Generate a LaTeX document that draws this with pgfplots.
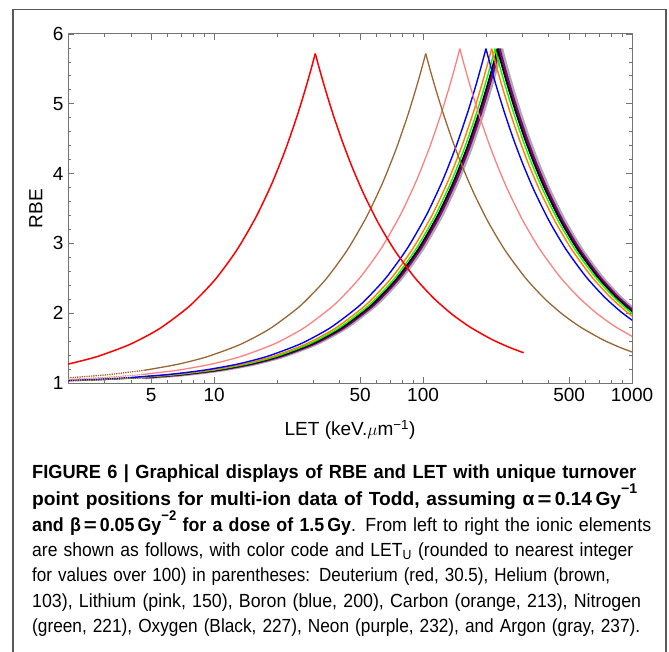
\documentclass[border=0pt]{standalone}
\usepackage{fontspec}
\setmainfont{Liberation Sans}
\newfontfamily\capfont[FakeStretch=0.95]{Liberation Sans}
\usepackage{graphicx}
\usepackage{pgfplots}
\pgfplotsset{compat=1.18}
\definecolor{mbrown}{rgb}{0.6,0.4,0.2}
\definecolor{mpink}{rgb}{1,0.5,0.5}
\definecolor{morange}{rgb}{1,0.5,0}
\definecolor{mgreen}{rgb}{0,1,0}
\definecolor{mpurple}{rgb}{0.5,0,0.5}
\definecolor{mgray}{rgb}{0.5,0.5,0.5}
\definecolor{framegray}{rgb}{0.45,0.45,0.45}
\newcommand{\sups}[1]{\raisebox{0.6em}{\fontsize{14}{14}\selectfont #1}}
\newcommand{\capline}[2]{\resizebox{#1pt}{\height}{#2}}
\newcommand{\eqs}{\hspace{3pt}\scalebox{1.25}[1]{=}\hspace{3pt}}
\begin{document}
\begin{tikzpicture}[x=1pt,y=1pt]
\useasboundingbox (0,0) rectangle (669,-652);
\draw[line width=1.3pt, black!65] (13,-652) -- (13,-9.5) -- (666,-9.5) -- (666,-652);
\begin{axis}[
  at={(68pt,-383pt)}, anchor=south west,
  width=564pt, height=349pt, scale only axis,
  xmode=log, xmin=2, xmax=1000, ymin=1, ymax=6,
  xtick={5,10,50,100,500,1000},
  xticklabels={5,10,50,100,500,1000},
  minor xtick={2,3,4,6,7,8,9,20,30,40,60,70,80,90,200,300,400,600,700,800,900},
  ytick={1,2,3,4,5,6},
  minor y tick num=4,
  tick align=inside,
  major tick length=6pt, minor tick length=3.5pt,
  every tick/.style={framegray, line width=0.8pt},
  axis line style={framegray, line width=1pt},
  /pgf/number format/assume math mode=true,
  tick label style={font=\fontsize{19}{19}\selectfont, black},
  xticklabel style={yshift=-2pt},
  yticklabel style={xshift=-1pt},
  xlabel={LET (keV.$\mu$m\textsuperscript{−1})},
  ylabel={RBE},
  every axis x label/.style={at={(axis description cs:0.5,-0.135)}, anchor=center, font=\fontsize{19}{19}\selectfont},
  every axis y label/.style={at={(axis description cs:-0.057,0.5)}, rotate=90, anchor=center, font=\fontsize{19}{19}\selectfont},
  clip=true,
  every axis plot/.append style={smooth, tension=0.4},
  lowdot/.style={densely dotted, line width=1.3pt},
]
% Argon (gray)
\addplot[mgray!80, lowdot] coordinates {(1.896,1.0301) (2.844,1.0461) (4.74,1.0788)};
\addplot[mgray!80, line width=3.6pt, opacity=0.8] coordinates {(4.74,1.0788) (7.11,1.1206) (10.665,1.1846) (15.405,1.2716) (21.33,1.3822) (30.81,1.5623) (42.66,1.7913) (59.25,2.1173) (78.21,2.4955) (99.54,2.9265) (123.24,3.4106) (146.94,3.8997) (170.64,4.3926) (194.34,4.8890) (213.3,5.2883) (227.52,5.5890) (237,5.79)};
\addplot[mgray!80, line width=3.6pt, opacity=0.8] coordinates {(237,5.79) (248.85,5.5530) (265.44,5.2575) (289.14,4.8951) (319.95,4.5058) (355.5,4.1420) (402.9,3.7585) (474,3.3295) (568.8,2.9272) (711,2.5280) (876.9,2.2286) (1066.5,2.0023)};
% Neon (purple)
\addplot[mpurple, lowdot] coordinates {(1.856,1.0301) (2.784,1.0461) (4.64,1.0788)};
\addplot[mpurple, line width=2.4pt] coordinates {(4.64,1.0788) (6.96,1.1206) (10.44,1.1846) (15.08,1.2716) (20.88,1.3822) (30.16,1.5623) (41.76,1.7913) (58,2.1173) (76.56,2.4955) (97.44,2.9265) (120.64,3.4106) (143.84,3.8997) (167.04,4.3926) (190.24,4.8890) (208.8,5.2883) (222.72,5.5890) (232,5.79)};
\addplot[mpurple, line width=2.4pt] coordinates {(232,5.79) (243.6,5.5530) (259.84,5.2575) (283.04,4.8951) (313.2,4.5058) (348,4.1420) (394.4,3.7585) (464,3.3295) (556.8,2.9272) (696,2.5280) (858.4,2.2286) (1044,2.0023)};
% Oxygen (black)
\addplot[black, lowdot] coordinates {(1.816,1.0301) (2.724,1.0461) (4.54,1.0788)};
\addplot[black, line width=1.7pt] coordinates {(4.54,1.0788) (6.81,1.1206) (10.215,1.1846) (14.755,1.2716) (20.43,1.3822) (29.51,1.5623) (40.86,1.7913) (56.75,2.1173) (74.91,2.4955) (95.34,2.9265) (118.04,3.4106) (140.74,3.8997) (163.44,4.3926) (186.14,4.8890) (204.3,5.2883) (217.92,5.5890) (227,5.79)};
\addplot[black, line width=1.7pt] coordinates {(227,5.79) (238.35,5.5530) (254.24,5.2575) (276.94,4.8951) (306.45,4.5058) (340.5,4.1420) (385.9,3.7585) (454,3.3295) (544.8,2.9272) (681,2.5280) (839.9,2.2286) (1021.5,2.0023)};
% Nitrogen (green)
\addplot[mgreen, lowdot] coordinates {(1.768,1.0301) (2.652,1.0461) (4.42,1.0788)};
\addplot[mgreen, line width=1.4pt] coordinates {(4.42,1.0788) (6.63,1.1206) (9.945,1.1846) (14.365,1.2716) (19.89,1.3822) (28.73,1.5623) (39.78,1.7913) (55.25,2.1173) (72.93,2.4955) (92.82,2.9265) (114.92,3.4106) (137.02,3.8997) (159.12,4.3926) (181.22,4.8890) (198.9,5.2883) (212.16,5.5890) (221,5.79)};
\addplot[mgreen, line width=1.4pt] coordinates {(221,5.79) (232.05,5.5530) (247.52,5.2575) (269.62,4.8951) (298.35,4.5058) (331.5,4.1420) (375.7,3.7585) (442,3.3295) (530.4,2.9272) (663,2.5280) (817.7,2.2286) (994.5,2.0023) (1215.5,1.8135)};
% Carbon (orange)
\addplot[morange, lowdot] coordinates {(1.704,1.0301) (2.556,1.0461) (4.26,1.0788)};
\addplot[morange, line width=1.4pt] coordinates {(4.26,1.0788) (6.39,1.1206) (9.585,1.1846) (13.845,1.2716) (19.17,1.3822) (27.69,1.5623) (38.34,1.7913) (53.25,2.1173) (70.29,2.4955) (89.46,2.9265) (110.76,3.4106) (132.06,3.8997) (153.36,4.3926) (174.66,4.8890) (191.7,5.2883) (204.48,5.5890) (213,5.79)};
\addplot[morange, line width=1.4pt] coordinates {(213,5.79) (223.65,5.5530) (238.56,5.2575) (259.86,4.8951) (287.55,4.5058) (319.5,4.1420) (362.1,3.7585) (426,3.3295) (511.2,2.9272) (639,2.5280) (788.1,2.2286) (958.5,2.0023) (1171.5,1.8135)};
% Boron (blue)
\addplot[blue, lowdot] coordinates {(1.6,1.0301) (2.4,1.0461) (4,1.0788)};
\addplot[blue, line width=1.4pt] coordinates {(4,1.0788) (6,1.1206) (9,1.1846) (13,1.2716) (18,1.3822) (26,1.5623) (36,1.7913) (50,2.1173) (66,2.4955) (84,2.9265) (104,3.4106) (124,3.8997) (144,4.3926) (164,4.8890) (180,5.2883) (192,5.5890) (200,5.79)};
\addplot[blue, line width=1.4pt] coordinates {(200,5.79) (210,5.5530) (224,5.2575) (244,4.8951) (270,4.5058) (300,4.1420) (340,3.7585) (400,3.3295) (480,2.9272) (600,2.5280) (740,2.2286) (900,2.0023) (1100,1.8135)};
% Lithium (pink)
\addplot[mpink, lowdot] coordinates {(1.2,1.0301) (1.8,1.0461) (3,1.0788) (4.5,1.1206)};
\addplot[mpink, line width=1.3pt] coordinates {(4.5,1.1206) (6.75,1.1846) (9.75,1.2716) (13.5,1.3822) (19.5,1.5623) (27,1.7913) (37.5,2.1173) (49.5,2.4955) (63,2.9265) (78,3.4106) (93,3.8997) (108,4.3926) (123,4.8890) (135,5.2883) (144,5.5890) (150,5.79)};
\addplot[mpink, line width=1.3pt] coordinates {(150,5.79) (157.5,5.5530) (168,5.2575) (183,4.8951) (202.5,4.5058) (225,4.1420) (255,3.7585) (300,3.3295) (360,2.9272) (450,2.5280) (555,2.2286) (675,2.0023) (825,1.8135) (1050,1.6331)};
% Helium (brown)
\addplot[mbrown, lowdot] coordinates {(1.236,1.0454) (2.06,1.0776) (3.09,1.1188) (4.635,1.1819)};
\addplot[mbrown, line width=1.3pt] coordinates {(4.635,1.1819) (6.695,1.2676) (9.27,1.3766) (13.39,1.5541) (18.54,1.7797) (25.75,2.1009) (33.99,2.4736) (43.26,2.8983) (53.56,3.3754) (63.86,3.8573) (74.16,4.3430) (84.46,4.8322) (92.7,5.2257) (98.88,5.5219) (103,5.72)};
\addplot[mbrown, line width=1.3pt] coordinates {(103,5.72) (108.15,5.4865) (115.36,5.1952) (125.66,4.8382) (139.05,4.4546) (154.5,4.0960) (175.1,3.7182) (206,3.2955) (247.2,2.8990) (309,2.5057) (381.1,2.2106) (463.5,1.9877) (566.5,1.8016) (721,1.6238) (875.5,1.5098) (1030,1.4305)};
% Deuterium (red)
\addplot[red, line width=1.5pt] coordinates {(1.9825,1.2676) (2.745,1.3766) (3.965,1.5541) (5.49,1.7797) (7.625,2.1009) (10.065,2.4736) (12.81,2.8983) (15.86,3.3754) (18.91,3.8573) (21.96,4.3430) (25.01,4.8322) (27.45,5.2257) (29.28,5.5219) (30.5,5.72)};
\addplot[red, line width=1.5pt] coordinates {(30.5,5.72) (32.025,5.4865) (34.16,5.1952) (37.21,4.8382) (41.175,4.4546) (45.75,4.0960) (51.85,3.7182) (61,3.2955) (73.2,2.8990) (91.5,2.5057) (112.85,2.2106) (137.25,1.9877) (167.75,1.8016) (213.5,1.6238) (259.25,1.5098) (302.9,1.4336)};
\end{axis}
\node[anchor=north west, inner sep=0pt, text width=650pt, align=left,
      font={\capfont\fontsize{19}{25.2}\selectfont}] at (32,-465)
{\capline{604}{\textbf{FIGURE 6 | Graphical displays of RBE and LET with unique turnover}}\\
\capline{605}{\textbf{point positions for multi-ion data of Todd, assuming α\eqs 0.14\,Gy\sups{\textbf{−1}}}}\\
\capline{619}{\textbf{and β\eqs 0.05\,Gy\sups{\textbf{−2}} for a dose of 1.5\,Gy}. From left to right the ionic elements}\\
\capline{601}{are shown as follows, with color code and LET\textsubscript{U} (rounded to nearest integer}\\
\capline{578}{for values over 100) in parentheses: Deuterium (red, 30.5), Helium (brown,}\\
\capline{609}{103), Lithium (pink, 150), Boron (blue, 200), Carbon (orange, 213), Nitrogen}\\
\capline{608}{(green, 221), Oxygen (Black, 227), Neon (purple, 232), and Argon (gray, 237).}};
\end{tikzpicture}
\end{document}
